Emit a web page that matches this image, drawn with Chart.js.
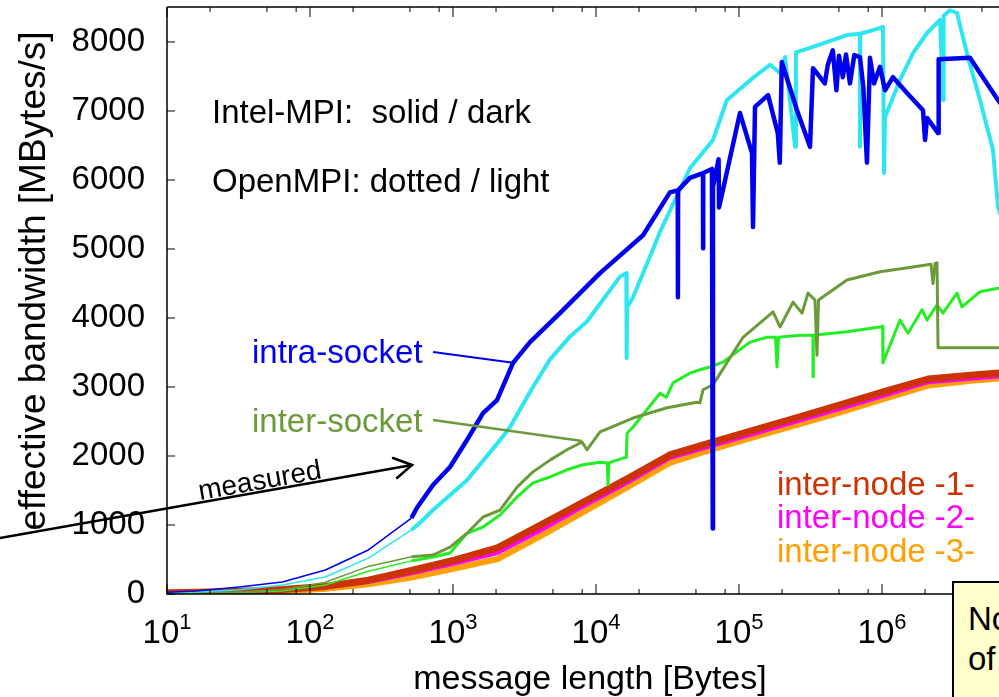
<!DOCTYPE html>
<html>
<head>
<meta charset="utf-8">
<script src="https://cdn.jsdelivr.net/npm/chart.js@4"></script>
<style>
  html, body { margin: 0; padding: 0; background: #fff; overflow: hidden; }
  #wrap { position: relative; width: 999px; height: 697px; overflow: hidden; }
  #note {
    position: absolute; left: 952px; top: 581px; width: 130px; height: 200px;
    box-sizing: border-box; background: #ffffcc; border: 2px solid #000;
    padding: 16px 0 0 14px; color: #000;
    font: 33px/40px "Liberation Sans", Arial, sans-serif; white-space: nowrap;
  }
</style>
</head>
<body>
<div id="wrap">
  <canvas id="bandwidth" width="999" height="697"></canvas>
  <div id="note">Note<br>of<br>&rarr;</div>
</div>
<script>
const FONT = '"Liberation Sans", Arial, Helvetica, sans-serif';

// axis ticks
const yTickValues = [0, 1000, 2000, 3000, 4000, 5000, 6000, 7000, 8000];
const xTickExponents = [1, 2, 3, 4, 5, 6];
const xMinorFactors = [2, 5, 8];

// intra-socket, Intel-MPI (dark blue)
const intraIntelLen = [8, 16, 32, 64, 128, 256, 512, 560, 725, 953, 1253, 1622, 2032, 2630, 3455, 5598, 10670,
  21330, 32890, 37300, 37400, 37500, 45400, 56000, 56100, 56200, 64700, 65536, 65770, 72000, 72500, 101600, 123300,
  125300, 129400, 159600, 186800, 192900, 199200, 254400, 313700, 329300, 398100, 417800, 452900, 480000, 500000,
  532100, 560000, 596800, 640000, 701400, 740000, 785000, 824000, 880000, 968300, 1050000, 1194000, 1496000,
  1936000, 2000000, 2066000, 2466000, 2490000, 4122000, 4845000, 6473000, 8000000];
const intraIntelBW = [18, 45, 101, 174, 348, 638, 1101, 1250, 1580, 1840, 2232, 2620, 2810, 3350, 3650, 4070, 4650,
  5200, 5820, 5850, 4300, 5850, 6030, 6100, 5010, 6100, 6160, 950, 5900, 6300, 5600, 6970, 6390,
  5320, 7060, 7230, 6680, 6250, 7710, 7010, 6480, 7620, 7400, 7670, 7880, 7300, 7800,
  7490, 7820, 7400, 7810, 7780, 7350, 6250, 7770, 7400, 7640, 7300, 7490, 7260,
  7010, 6580, 6900, 6680, 7750, 7770, 7550, 7160, 6900];

// intra-socket, OpenMPI (light cyan)
const intraOpenLen = [8, 16, 32, 64, 128, 256, 512, 600, 725, 1253, 2133, 2506, 3623, 4768, 6577, 8650, 14720,
  16300, 16384, 16480, 18160, 25060, 28050, 45400, 65770, 82400, 125300, 164800, 193600, 209900, 246700, 250000,
  329300, 568300, 700000, 701400, 705000, 968300, 1016000, 1033000, 1050000, 1336000, 1648000, 2066000, 2548000,
  2675000, 2700000, 2995000, 3346000, 3990000, 4845000, 5977000, 6473000, 8000000];
const intraOpenBW = [10, 30, 60, 130, 246, 520, 928, 1050, 1217, 1650, 2230, 2420, 3000, 3400, 3730, 3950, 4600,
  4650, 3420, 4150, 4300, 5000, 5250, 6170, 6580, 7160, 7480, 7670, 7550, 7780, 6480, 7850,
  7930, 8100, 8120, 6480, 8120, 8200, 8220, 6100, 6910, 7450, 7840, 8130, 8320,
  7160, 8380, 8460, 8420, 7780, 7160, 6430, 5610, 5000];

// inter-socket, Intel-MPI (olive)
const interIntelLen = [8, 16, 32, 64, 128, 256, 512, 725, 953, 1253, 1622, 2133, 2806, 3623, 4768, 6266, 7980,
  8650, 10670, 18160, 31420, 50790, 53330, 56000, 65770, 106700, 173000, 193600, 238700, 276000, 303800, 340000,
  351000, 360000, 569000, 968000, 1648000, 2200000, 2274000, 2350000, 2425000, 2466000, 6473000, 8000000];
const interIntelBW = [8, 15, 30, 60, 170, 400, 540, 565, 680, 880, 1116, 1217, 1550, 1770, 1940, 2090, 2200,
  2090, 2350, 2550, 2700, 2780, 2770, 2960, 3030, 3720, 4090, 3870, 4230, 4070, 4360, 4260,
  3460, 4260, 4550, 4670, 4740, 4780, 4500, 4790, 4800, 3570, 3570, 3560];

// inter-socket, OpenMPI (light green)
const interOpenLen = [8, 16, 32, 64, 128, 256, 512, 725, 953, 1253, 1622, 2133, 2806, 3623, 4768, 6266, 7980,
  10670, 12000, 12130, 12300, 15450, 16300, 16480, 18160, 28050, 31000, 34540, 45400, 53330, 62660, 77270,
  119400, 157000, 180000, 184500, 189000, 267100, 328900, 329500, 331000, 569000, 968000, 1010000, 1016000,
  1336000, 1520000, 1905000, 2066000, 2425000, 2671000, 3346000, 3626000, 4845000, 6473000, 8000000];
const interOpenBW = [6, 12, 25, 45, 130, 330, 480, 536, 594, 880, 971, 1145, 1406, 1610, 1696, 1800, 1870,
  1910, 1900, 1580, 1900, 1970, 1980, 2330, 2420, 2910, 2850, 3060, 3200, 3250, 3290, 3360,
  3650, 3720, 3720, 3290, 3720, 3750, 3750, 3150, 3750, 3800, 3870, 3880, 3350,
  3970, 3780, 4120, 3970, 4190, 4070, 4360, 4160, 4380, 4430, 4460];

// inter-node runs
const nodeLen = [8, 16, 32, 64, 128, 256, 512, 1024, 2048, 4096, 8192, 16384, 32768, 65536, 131072, 262144,
  524288, 1048576, 2097152, 4194304, 8388608];
const node1BW = [15, 25, 40, 65, 110, 200, 340, 490, 670, 1000, 1333, 1667, 2015, 2200, 2384, 2565, 2750, 2935, 3116, 3170, 3220];
const node2BW = [10, 20, 32, 55, 95, 175, 300, 440, 594, 920, 1270, 1610, 1970, 2150, 2330, 2510, 2690, 2880, 3070, 3120, 3170];
const node3BW = [5, 12, 22, 40, 75, 140, 240, 370, 507, 840, 1190, 1540, 1900, 2100, 2280, 2460, 2640, 2830, 3020, 3090, 3140];

function series(len, bw, color, width, thinWidth) {
  const ds = {
    data: len.map((x, i) => ({x: x, y: bw[i]})),
    borderColor: color,
    borderWidth: width,
    pointRadius: 0,
    tension: 0,
    fill: false,
    borderJoinStyle: 'round'
  };
  if (thinWidth) {
    // sparse small-message points are drawn with a thin line
    ds.segment = {borderWidth: (c) => (c.p1.parsed.x <= 512 ? thinWidth : width)};
  }
  return ds;
}

function text(ctx, str, x, y, size, color, align) {
  ctx.font = size + 'px ' + FONT;
  ctx.fillStyle = color;
  ctx.textAlign = align || 'left';
  ctx.textBaseline = 'alphabetic';
  ctx.fillText(str, x, y);
}

function line(ctx, pts, color, width) {
  ctx.strokeStyle = color;
  ctx.lineWidth = width;
  ctx.beginPath();
  ctx.moveTo(pts[0][0], pts[0][1]);
  for (let i = 1; i < pts.length; i++) ctx.lineTo(pts[i][0], pts[i][1]);
  ctx.stroke();
}

const overlay = {
  id: 'overlay',
  afterDraw(chart) {
    const {ctx, chartArea: area} = chart;
    const xs = chart.scales.x;
    const ys = chart.scales.y;
    ctx.save();

    // frame (left, bottom, top)
    ctx.lineCap = 'butt';
    line(ctx, [[area.left, area.top], [area.right, area.top]], '#000', 1.5);
    line(ctx, [[area.left, area.top], [area.left, area.bottom], [area.right, area.bottom]], '#000', 1.5);

    // inward tick marks
    ctx.strokeStyle = '#000';
    ctx.lineWidth = 1;
    ctx.beginPath();
    yTickValues.forEach((v) => {
      const py = ys.getPixelForValue(v);
      ctx.moveTo(area.left, py);
      ctx.lineTo(area.left + 8, py);
    });
    xTickExponents.forEach((e) => {
      const px = xs.getPixelForValue(Math.pow(10, e));
      ctx.moveTo(px, area.bottom); ctx.lineTo(px, area.bottom - 10);
      ctx.moveTo(px, area.top); ctx.lineTo(px, area.top + 10);
      xMinorFactors.forEach((f) => {
        const mx = xs.getPixelForValue(f * Math.pow(10, e));
        if (mx > area.right) return;
        ctx.moveTo(mx, area.bottom); ctx.lineTo(mx, area.bottom - 5);
        ctx.moveTo(mx, area.top); ctx.lineTo(mx, area.top + 5);
      });
    });
    ctx.stroke();

    // x tick labels as 10^k
    xTickExponents.forEach((e) => {
      const px = xs.getPixelForValue(Math.pow(10, e));
      ctx.font = '33px ' + FONT;
      const w1 = ctx.measureText('10').width;
      ctx.font = '22px ' + FONT;
      const w2 = ctx.measureText(String(e)).width;
      const x0 = px - (w1 + w2) / 2;
      text(ctx, '10', x0, 643, 33, '#000');
      text(ctx, String(e), x0 + w1, 629, 22, '#000');
    });

    // axis titles
    text(ctx, 'message length [Bytes]', 590, 689, 34, '#000', 'center');
    ctx.save();
    ctx.translate(45, 281);
    ctx.rotate(-Math.PI / 2);
    text(ctx, 'effective bandwidth [MBytes/s]', 0, 0, 37, '#000', 'center');
    ctx.restore();

    // key notes
    text(ctx, 'Intel-MPI:  solid / dark', 212, 123, 33, '#000');
    text(ctx, 'OpenMPI: dotted / light', 212, 192, 33, '#000');

    text(ctx, 'intra-socket', 252, 363, 33, '#0000ee');
    line(ctx, [[433, 352], [515, 363]], '#0000ee', 2);
    text(ctx, 'inter-socket', 252, 432, 33, '#6b9a3b');
    line(ctx, [[433, 420], [582, 441]], '#6b9a3b', 2.5);

    text(ctx, 'inter-node -1-', 777, 495, 33, '#cc3300');
    text(ctx, 'inter-node -2-', 777, 528, 33, '#ff00ff');
    text(ctx, 'inter-node -3-', 777, 562, 33, '#ffa000');

    // "measured" arrow
    ctx.lineCap = 'round';
    line(ctx, [[0, 538], [412, 465]], '#000', 2.5);
    line(ctx, [[393, 458], [412, 465], [397, 478]], '#000', 2.5);
    ctx.save();
    ctx.translate(200, 500);
    ctx.rotate(-10 * Math.PI / 180);
    text(ctx, 'measured', 0, 0, 28, '#000');
    ctx.restore();

    ctx.restore();
  }
};

new Chart(document.getElementById('bandwidth').getContext('2d'), {
  type: 'line',
  data: {
    datasets: [
      series(intraIntelLen, intraIntelBW, '#0000ee', 4.5, 1.5),
      series(intraOpenLen, intraOpenBW, '#2ee6f0', 4, 1.5),
      series(interIntelLen, interIntelBW, '#6b9a3b', 3, 1.5),
      series(interOpenLen, interOpenBW, '#22ee22', 3, 1.5),
      series(nodeLen, node1BW, '#cc3300', 7),
      series(nodeLen, node2BW, '#ff00ff', 4),
      series(nodeLen, node3BW, '#ffa000', 6)
    ]
  },
  options: {
    responsive: false,
    animation: false,
    devicePixelRatio: 1,
    events: [],
    layout: {padding: {top: 7, right: 0, bottom: 0, left: 0}},
    plugins: {legend: {display: false}, tooltip: {enabled: false}},
    scales: {
      x: {
        type: 'logarithmic',
        min: 10,
        max: 6.58e6,
        ticks: {display: false},
        grid: {display: false, drawTicks: false},
        border: {display: false},
        afterFit: (s) => { s.height = 103; s.paddingLeft = 0; s.paddingRight = 0; }
      },
      y: {
        min: 0,
        max: 8507,
        afterBuildTicks: (s) => { s.ticks = yTickValues.map((v) => ({value: v})); },
        ticks: {
          font: {family: FONT, size: 33},
          color: '#000',
          padding: 22,
          callback: (v) => String(v)
        },
        grid: {display: false, drawTicks: false},
        border: {display: false},
        afterFit: (s) => { s.width = 167; s.paddingTop = 0; s.paddingBottom = 0; }
      }
    }
  },
  plugins: [overlay]
});
</script>
</body>
</html>
